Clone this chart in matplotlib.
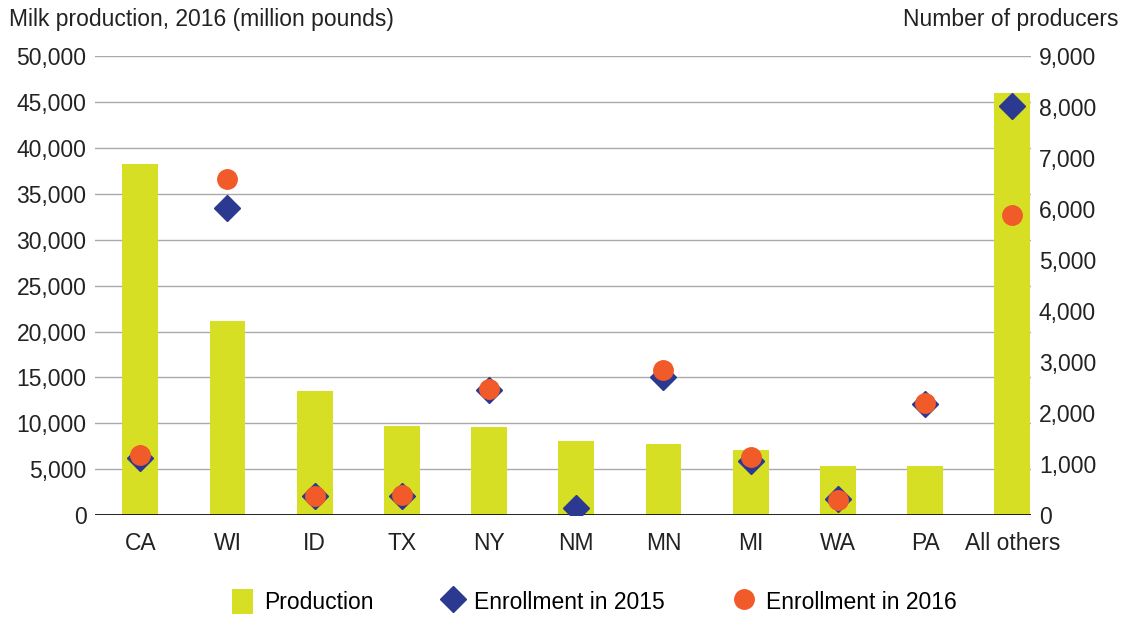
import numpy as np
import matplotlib.pyplot as plt
from matplotlib.ticker import FuncFormatter

states = ["CA", "WI", "ID", "TX", "NY", "NM", "MN", "MI", "WA", "PA", "All others"]
production = [38300, 21200, 13500, 9700, 9600, 8050, 7800, 7100, 5400, 5400, 46000]
enroll_2015 = [1120, 6020, 370, 370, 2450, 140, 2700, 1060, 310, 2180, 8020]
enroll_2016 = [1180, 6590, 370, 390, 2470, np.nan, 2840, 1140, 300, 2200, 5880]

bar_color = "#d6df23"
blue = "#2b3990"
orange = "#f15a29"

plt.rcParams['font.family'] = ['Liberation Sans', 'DejaVu Sans']

fig = plt.figure(figsize=(11.3, 6.17), dpi=100)
ax = fig.add_axes([0.084, 0.165, 0.828, 0.744])
ax2 = ax.twinx()

x = np.arange(len(states))
ax.bar(x, production, width=0.41, color=bar_color, zorder=2, label="Production")
ax2.plot(x, enroll_2015, linestyle="none", marker="D", markersize=13, color=blue,
         zorder=3, label="Enrollment in 2015")
ax2.plot(x, enroll_2016, linestyle="none", marker="o", markersize=14, color=orange,
         zorder=4, label="Enrollment in 2016")

ax.set_ylim(0, 50000)
ax2.set_ylim(0, 9000)
ax.set_yticks(np.arange(0, 50001, 5000))
ax2.set_yticks(np.arange(0, 9001, 1000))
ax.set_xlim(-0.52, 10.21)
ax.set_xticks(x)
ax.set_xticklabels(states)

fmt = FuncFormatter(lambda v, p: f"{int(v):,}")
ax.yaxis.set_major_formatter(fmt)
ax2.yaxis.set_major_formatter(fmt)

ax.grid(axis="y", color="#aaaaaa", linewidth=1, zorder=0)
ax.set_axisbelow(True)
for a in (ax, ax2):
    for s in ["top", "left", "right", "bottom"]:
        a.spines[s].set_visible(False)
    a.tick_params(length=0, labelsize=16.5, colors="#222222")
ax.axhline(0, color="black", linewidth=1.2, zorder=5)
ax.tick_params(axis="x", pad=12)
ax.tick_params(axis="y", pad=6)
ax2.tick_params(axis="y", pad=6)

fig.text(0.008, 0.968, "Milk production, 2016 (million pounds)", fontsize=16.5,
         color="#222222", va="center")
fig.text(0.99, 0.968, "Number of producers", fontsize=16.5, color="#222222",
         va="center", ha="right")

h1, l1 = ax.get_legend_handles_labels()
h2, l2 = ax2.get_legend_handles_labels()
fig.legend(h1 + h2, l1 + l2, loc="center", bbox_to_anchor=(0.526, 0.025), ncol=3,
           frameon=False, fontsize=16.5, handlelength=0.9, handleheight=1.3,
           handletextpad=0.5, columnspacing=3.0)

fig.savefig("out.png", dpi=100)
